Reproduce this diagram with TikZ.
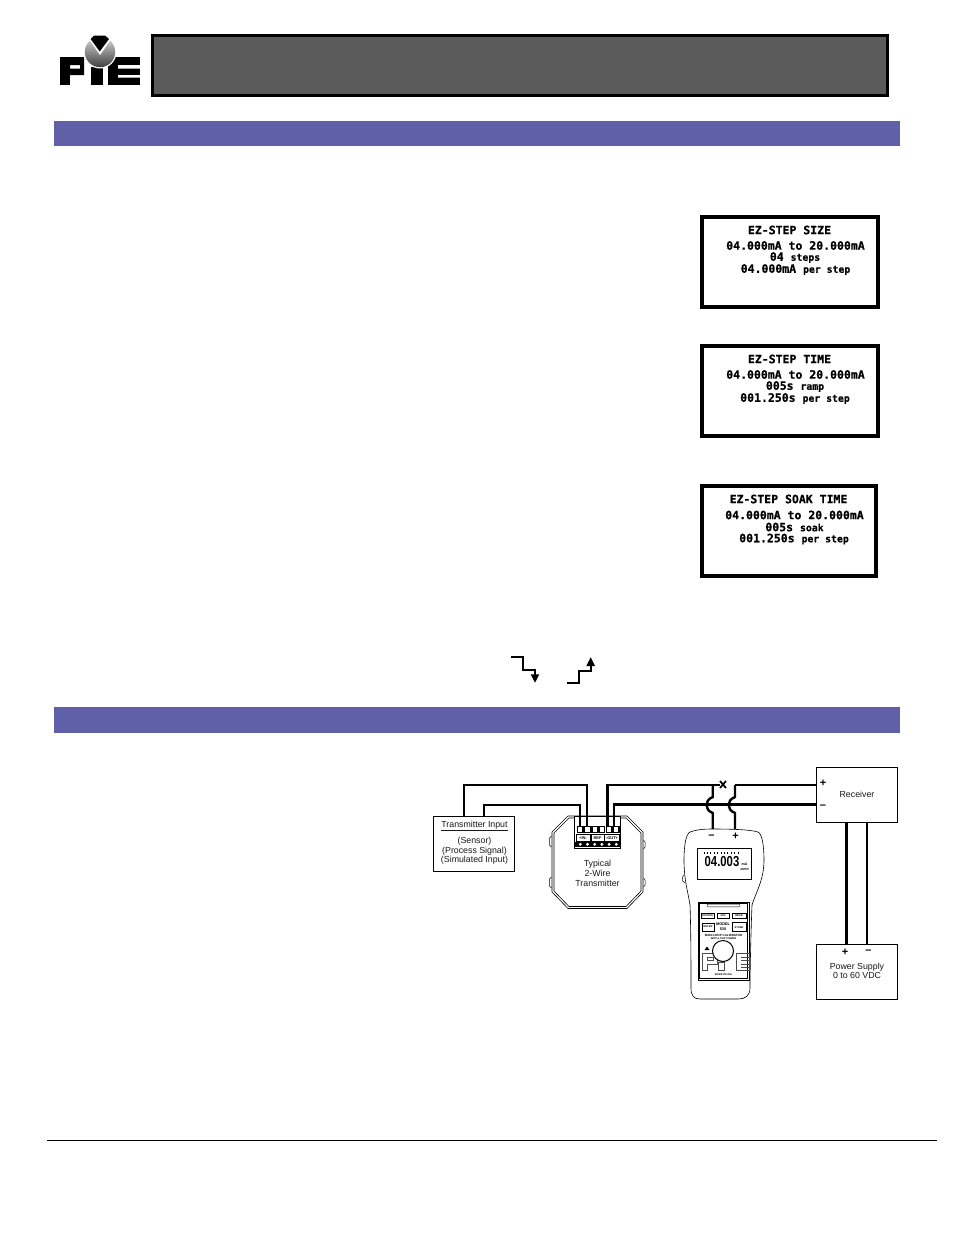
\documentclass[tikz,border=0pt]{standalone}
\usepackage{graphicx}
\usepackage{fontspec}
\setmainfont{Liberation Sans}
\newfontfamily\lcdfont{DejaVu Sans Mono}[BoldFeatures={FakeBold=0.6}]
\usetikzlibrary{arrows.meta}
\definecolor{barblue}{HTML}{6060A8}
\definecolor{headgray}{HTML}{5A5A5A}
\tikzset{
  bar/.style={fill=barblue,draw=none},
  lcdbox/.style={draw=black,line width=4pt,fill=white,minimum height=90pt,inner sep=0pt},
  lcdtxt/.style={font=\lcdfont\bfseries\fontsize{11.5}{11.5}\selectfont,inner sep=0pt,text=black},
  wire/.style={draw=black,line width=2.4pt},
  wirethick/.style={draw=black,line width=3.6pt},
  thinbox/.style={draw=black,line width=0.9pt,fill=white,minimum width=81pt,minimum height=55pt,inner sep=0pt},
  lab/.style={font=\fontsize{8.8}{8.8}\selectfont,inner sep=0pt,text=black!90},
  sign/.style={font=\bfseries\fontsize{11}{11}\selectfont,inner sep=0pt,text=black},
  tinytxt/.style={font=\bfseries\fontsize{2.6}{2.6}\selectfont,inner sep=0pt,text=black},
  termtxt/.style={font=\bfseries\fontsize{4}{4}\selectfont,inner sep=0pt,text=black},
  btn/.style={draw=black,line width=0.5pt,fill=white,inner sep=0pt},
}
\newcommand{\smalltxt}[1]{{\fontsize{9.8}{9.8}\selectfont #1}}
\begin{document}
\begin{tikzpicture}[x=1pt,y=-1pt]
\useasboundingbox (0,0) rectangle (954,1235);
% logo
\fill[black,even odd rule] (60,57) rectangle (84,75) (70,65) rectangle (80,68.5);
\fill[black] (60,75) rectangle (70,85);
\fill[black] (91,67) rectangle (103,85);
\fill[black] (108,57) rectangle (140,85);
\fill[white] (118,65) rectangle (140,68.5) (118,75) rectangle (140,77.5);
\fill[white] (100,52) circle (16.5);
\shade[top color=black!15,bottom color=black!75] (100,52) circle (15.2);
\fill[white] (88,38) -- (112,38) -- (100,55) -- cycle;
\fill[black] (90.7,39) -- (94,35.5) -- (105,35.5) -- (109,39) -- (99.7,51.5) -- cycle;
% title bar
\node[draw=black,line width=2.5pt,fill=headgray,minimum width=735pt,minimum height=60pt,inner sep=0pt] (title) at (520,65.5) {};
% section bars
\path[bar] (54,121) rectangle (900,146);
\path[bar] (54,707) rectangle (900,733);
% LCD 1
\node[lcdbox,minimum width=176pt] (lcdA) at (790,262) {};
\node[lcdtxt] (a1) at (789.5,230) {EZ-STEP SIZE};
\node[lcdtxt] (a2) at (795.5,245.5) {04.000mA to 20.000mA};
\node[lcdtxt] (a3) at (795,257.5) {04 \smalltxt{steps}};
\node[lcdtxt] (a4) at (795.5,269.5) {04.000mA \smalltxt{per step}};
% LCD 2
\node[lcdbox,minimum width=176pt] (lcdB) at (790,391) {};
\node[lcdtxt] (b1) at (789.5,359) {EZ-STEP TIME};
\node[lcdtxt] (b2) at (795.5,374.5) {04.000mA to 20.000mA};
\node[lcdtxt] (b3) at (795,386.5) {005s \smalltxt{ramp}};
\node[lcdtxt] (b4) at (795,398.5) {001.250s \smalltxt{per step}};
% LCD 3
\node[lcdbox,minimum width=174pt] (lcdC) at (789,531) {};
\node[lcdtxt] (c1) at (788.5,499) {EZ-STEP SOAK TIME};
\node[lcdtxt] (c2) at (794.5,515) {04.000mA to 20.000mA};
\node[lcdtxt] (c3) at (794.5,527) {005s \smalltxt{soak}};
\node[lcdtxt] (c4) at (794,539) {001.250s \smalltxt{per step}};
% step icons
\draw[black,line width=1.7pt] (511,656.7) -- (523.3,656.7) -- (523.3,670) -- (535,670) -- (535,675);
\fill[black] (530.7,674.3) -- (539.3,674.3) -- (535,682.7) -- cycle;
\draw[black,line width=1.7pt] (567,683.3) -- (578.7,683.3) -- (578.7,670.7) -- (590.7,670.7) -- (590.7,666);
\fill[black] (586.3,666) -- (595,666) -- (590.7,657.3) -- cycle;
% boxes
\node[thinbox] (input) at (474,844) {};
\node[lab] (inT) at (474.5,826) {\underline{Transmitter Input}};
\node[lab,align=center,font=\fontsize{8.8}{9.4}\selectfont] (inB) at (474.5,851) {(Sensor)\\(Process Signal)\\(Simulated Input)};
\node[thinbox] (recv) at (857,794.5) {};
\node[lab] (recvT) at (857,794.5) {Receiver};
\node[sign] (rp) at (823,783) {+};
\node[sign] (rm) at (823,807) {–};
\node[thinbox] (psu) at (857,971.5) {};
\node[lab,align=center,font=\fontsize{8.8}{9.2}\selectfont] (psuT) at (857,970.5) {Power Supply\\0 to 60 VDC};
\node[sign] (pp) at (845,952) {+};
\node[sign] (pm) at (868.5,952) {–};
% transmitter body
\draw[black,line width=0.6pt] (568,816) -- (627,816) -- (643,832) -- (643,892) -- (627,908.5) -- (568,908.5) -- (552,892) -- (552,832) -- cycle;
\draw[black,line width=0.6pt] (569,818) -- (626,818) -- (641,833) -- (641,891) -- (626,906.5) -- (569,906.5) -- (554,891) -- (554,833) -- cycle;
\draw[black,line width=0.5pt] (551.5,836) -- (549.5,838) -- (549.5,845) -- (551.5,847);
\draw[black,line width=0.5pt] (551.5,877) -- (549.5,879) -- (549.5,886) -- (551.5,888);
\draw[black,line width=0.5pt] (643.5,840) -- (645,842) -- (645,847) -- (643.5,849);
\draw[black,line width=0.5pt] (643.5,878) -- (645,880) -- (645,885) -- (643.5,887);
\node[draw=black,line width=1pt,fill=white,minimum width=46pt,minimum height=32pt,inner sep=0pt] (term) at (597.5,832) {};
\foreach \i in {0,...,5}{
  \draw[black,line width=1.3pt] (577.5+\i*7.2,826.5) rectangle +(5.6,6);
}
\fill[black] (575,842) rectangle (620,847);
\foreach \i in {0,...,5}{
  \fill[white] (580.3+\i*7.2,844.3) circle (1.6);
}
\draw[black,line width=0.5pt] (576,834.5) rectangle (590.5,841);
\draw[black,line width=0.5pt] (591,834.5) rectangle (604,841);
\draw[black,line width=0.5pt] (604.5,834.5) rectangle (619,841);
\node[termtxt] (tIn) at (583,837.8) {+IN-};
\node[termtxt] (tRef) at (597.5,837.8) {REF};
\node[termtxt] (tOut) at (612,837.8) {-OUT+};
\node[lab,align=center,font=\fontsize{8.8}{10}\selectfont] (trT) at (597.5,873) {Typical\\2-Wire\\Transmitter};
% named wire coordinates
\coordinate (inA) at (464,816);
\coordinate (inAt) at (464,785);
\coordinate (inC) at (484,816);
\coordinate (inCt) at (484,805);
\coordinate (tA) at (587,827);
\coordinate (tAt) at (587,785);
\coordinate (tB) at (580,827);
\coordinate (tBt) at (580,805);
\coordinate (tC) at (607.5,827);
\coordinate (tCt) at (607.5,785);
\coordinate (tD) at (614,827);
\coordinate (tDt) at (614,804.5);
\coordinate (xL) at (719.5,785);
\coordinate (xR) at (735,785);
\coordinate (rA) at (816.5,785);
\coordinate (rB) at (816.5,804.5);
\coordinate (mA) at (712.7,829);
\coordinate (mB) at (735,829);
\coordinate (pA) at (846.5,944);
\coordinate (pB) at (867,944);
\coordinate (rC) at (846.5,822);
\coordinate (rD) at (867,822);
% wires
\draw[wire] (inA) -- (inAt) -- (tAt) -- (tA);
\draw[wire] (inC) -- (inCt) -- (tBt) -- (tB);
\draw[wire] (tC) -- (tCt) -- (xL);
\draw[wire] (tD) -- (tDt) -- (rB);
\draw[wire] (xR) -- (rA);
\draw[black,line width=1.7pt] (720,781) -- (726,788) (726,781) -- (720,788);
\draw[wire] (712.7,785) -- (712.7,797) .. controls (708,799) and (706.5,802) .. (706.5,805) .. controls (706.5,808) and (708,811) .. (712.7,813) -- (mA);
\draw[wire] (xR) -- (735,797) .. controls (730,799) and (728.7,802) .. (728.7,805) .. controls (728.7,808) and (730,811) .. (735,813) -- (mB);
\draw[wirethick] (rC) -- (pA);
\draw[wire] (rD) -- (pB);
% meter
\draw[black,line width=0.6pt,fill=white] (713,829) .. controls (730,829) and (750,829.5) .. (758,832) .. controls (762,834) and (764,845) .. (764,860) .. controls (764,880) and (756,892) .. (752,905) .. controls (751,930) and (750,970) .. (750,988) .. controls (750,996) and (745,999) .. (738,999) -- (700,999) .. controls (694,999) and (691,996) .. (691,988) .. controls (691,970) and (691,930) .. (690,905) .. controls (688,892) and (684,880) .. (684,860) .. controls (684,845) and (686,834) .. (690,832) .. controls (697,829.5) and (703,829) .. (713,829) -- cycle;
\draw[black,line width=0.5pt] (684,875) -- (682.5,877) -- (682.5,881) -- (685,883);
\node[sign] (mm) at (711.5,836.5) {–};
\node[sign] (mp) at (735.5,836.5) {+};
\node[draw=black,line width=0.7pt,fill=white,minimum width=54pt,minimum height=31pt,inner sep=0pt] (mlcd) at (724,863.5) {};
\foreach \i in {0,...,10}{\fill[black] (703.5+\i*3.4,851.5) rectangle +(0.7,2);}
\node[inner sep=0pt,font=\bfseries\fontsize{14.5}{14.5}\selectfont] (mread) at (722,862) {\scalebox{0.78}[1]{04.003}};
\node[tinytxt,font=\bfseries\fontsize{3.6}{3.6}\selectfont] (mma) at (744.5,864.5) {mA};
\node[tinytxt,font=\bfseries\fontsize{3}{3}\selectfont] (mre) at (744.5,869.5) {XMTR};
\node[draw=black,line width=0.7pt,fill=white,minimum width=51pt,minimum height=78pt,inner sep=0pt] (panel) at (723.5,941) {};
\draw[black,line width=0.4pt] (699.5,903.5) rectangle (747.5,978.5);
\node[draw=black,rounded corners=1pt,line width=0.4pt,minimum width=33pt,minimum height=2.6pt,inner sep=0pt] (top) at (723.5,905.5) {};
\node[btn,minimum width=13pt,minimum height=5.5pt] (b1x) at (707.5,915.5) {};
\node[btn,minimum width=12pt,minimum height=5.5pt] (b2x) at (723,915.5) {};
\node[btn,minimum width=14pt,minimum height=5.5pt] (b3x) at (739,915.5) {};
\node[tinytxt] (b1t) at (707.5,915.5) {SOURCE};
\node[tinytxt] (b2t) at (723,915.5) {JOG};
\node[tinytxt] (b3t) at (739,915.5) {READ};
\node[btn,minimum width=12pt,minimum height=8.5pt] (b4x) at (708,927) {};
\node[tinytxt] (b4t) at (708,927) {ENTER};
\node[tinytxt,font=\bfseries\fontsize{3.8}{4.4}\selectfont,align=center] (model) at (723,926.5) {MODEL\\530};
\node[btn,minimum width=14pt,minimum height=9pt] (b5x) at (739,926.5) {};
\node[tinytxt] (b5t) at (739,927.5) {STORE};
\node[tinytxt,font=\bfseries\fontsize{3}{3}\selectfont] (l1) at (723.5,935.5) {MAIN LOOP CALIBRATOR};
\node[tinytxt] (l2) at (723.5,939) {WITH LOOP POWER};
% panel logo outline
\draw[black!70,line width=0.4pt] (702,970) -- (702,953) -- (717,953) -- (717,964) -- (707,964) -- (707,970) -- cycle (707,957) rectangle (713,960);
\draw[black!70,line width=0.4pt] (718,962) rectangle (724,970);
\draw[black!70,line width=0.4pt] (736,953) -- (749,953) -- (749,970) -- (736,970) -- cycle (741,957) -- (749,957) (741,960) -- (749,960) (741,964) -- (749,964) (741,967) -- (749,967);
\node[draw=black,circle,line width=1pt,fill=white,minimum size=21pt,inner sep=0pt] (knob) at (723,951) {};
\fill[black] (707,946.5) -- (709.5,950) -- (704.5,950) -- cycle;
\node[tinytxt] (mfoot) at (723.5,974.5) {MADE IN USA};
% footer rule
\draw[black,line width=0.7pt] (47,1140.5) -- (937,1140.5);
\end{tikzpicture}
\end{document}
